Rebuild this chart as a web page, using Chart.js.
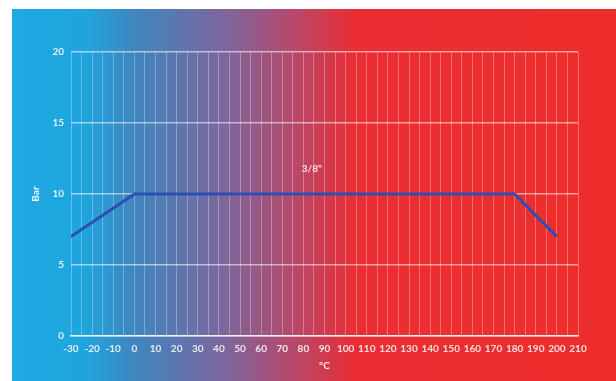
<!DOCTYPE html>
<html>
<head>
<meta charset="utf-8">
<script src="https://cdn.jsdelivr.net/npm/chart.js@4"></script>
<style>
  html, body { margin: 0; padding: 0; background: #fff; }
  #wrap { width: 616px; height: 381px; }
</style>
</head>
<body>
<div id="wrap"><canvas id="grafico"></canvas></div>
<script>
// Dados do gráfico
const temperaturas = [-30, 0, 180, 200];
const pressoes = [7, 10, 10, 7];
const serieNome = '3/8"';
const rotuloPos = [84, 11.8]; // onde fica o nome da série
const xMin = -30, xMax = 210;
const yMin = 0, yMax = 20;

// Fundo em degradê azul -> vermelho
const fundo = {
    id: "fundo",
    beforeDraw(chart) {
        const ctx = chart.ctx;
        ctx.save();
        ctx.fillStyle = "#ffffff";
        ctx.fillRect(0, 0, chart.width, chart.height);
        const g = ctx.createLinearGradient(12, 0, chart.width, 0);
        g.addColorStop(0, "#1ea9e1");
        g.addColorStop(0.12, "#1fa5de");
        g.addColorStop(0.2, "#3f86c0");
        g.addColorStop(0.36, "#80649a");
        g.addColorStop(0.46, "#b44a6e");
        g.addColorStop(0.57, "#ea2d33");
        g.addColorStop(1, "#ee2e2b");
        ctx.fillStyle = g;
        ctx.fillRect(12, 9, chart.width - 12, chart.height - 9);
        ctx.restore();
    }
};

// Nome da série dentro do gráfico
const rotulo = {
    id: "rotulo",
    afterDatasetsDraw(chart) {
        const ctx = chart.ctx;
        const x = chart.scales.x.getPixelForValue(rotuloPos[0]);
        const y = chart.scales.y.getPixelForValue(rotuloPos[1]);
        ctx.save();
        ctx.font = "bold 10px Lato";
        ctx.fillStyle = "rgba(255,255,255,0.85)";
        ctx.textAlign = "center";
        ctx.textBaseline = "middle";
        ctx.fillText(serieNome, x, y);
        ctx.restore();
    }
};

const ctx = document.getElementById("grafico").getContext("2d");
new Chart(ctx, {
    type: "line",
    data: {
        datasets: [{
            label: serieNome,
            data: temperaturas.map((t, i) => ({ x: t, y: pressoes[i] })),
            borderColor: "#2c4fb3",
            borderWidth: 3,
            pointRadius: 0,
            tension: 0
        }]
    },
    options: {
        responsive: true,
        maintainAspectRatio: false,
        animation: false,
        layout: { padding: { left: 0, top: 52, right: 38, bottom: 0 } },
        plugins: {
            legend: { display: false },
            tooltip: { enabled: false }
        },
        scales: {
            x: {
                type: "linear",
                min: xMin,
                max: xMax,
                ticks: {
                    stepSize: 5,
                    autoSkip: false,
                    maxRotation: 0,
                    color: "rgba(255,255,255,0.85)",
                    font: { family: "Lato", size: 10, weight: "bold" },
                    padding: 7,
                    callback: (v) => (v % 10 === 0 ? v : "")
                },
                grid: {
                    color: "rgba(255,255,255,0.3)",
                    lineWidth: 1,
                    drawTicks: false
                },
                border: { display: true, color: "rgba(255,255,255,0.8)", width: 1.5 },
                title: {
                    display: true,
                    text: "°C",
                    color: "rgba(255,255,255,0.9)",
                    font: { family: "Lato", size: 10, weight: "bold" },
                    padding: { top: 9, bottom: 9 }
                },
                afterFit: (s) => { s.height = 45; }
            },
            y: {
                min: yMin,
                max: yMax,
                ticks: {
                    stepSize: 5,
                    color: "rgba(255,255,255,0.85)",
                    font: { family: "Lato", size: 10, weight: "bold" },
                    padding: 7
                },
                grid: {
                    color: "rgba(255,255,255,0.55)",
                    lineWidth: 1.5,
                    drawTicks: false
                },
                border: { display: false },
                title: {
                    display: true,
                    text: "Bar",
                    color: "rgba(255,255,255,0.9)",
                    font: { family: "Lato", size: 10, weight: "bold" },
                    padding: { top: 30, bottom: 14 }
                },
                afterFit: (s) => { s.width = 71; }
            }
        }
    },
    plugins: [fundo, rotulo]
});
</script>
</body>
</html>
